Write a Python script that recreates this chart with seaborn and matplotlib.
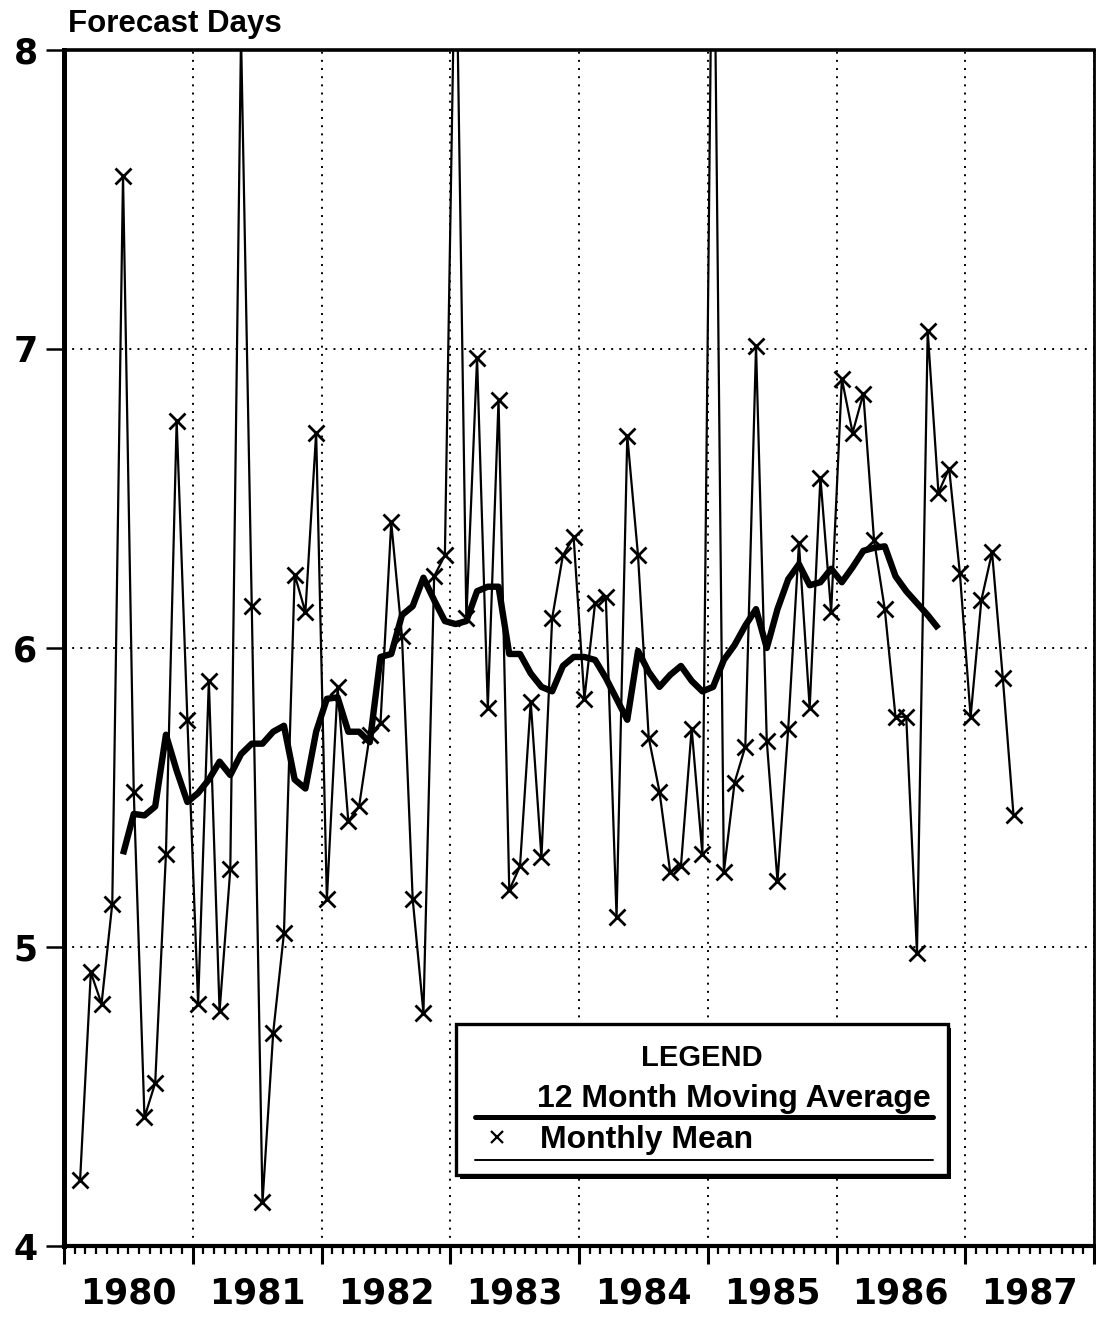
import numpy as np
import pandas as pd
import matplotlib
matplotlib.use("Agg")
import matplotlib.pyplot as plt
import matplotlib.transforms as mtransforms
from matplotlib.patches import Rectangle
from matplotlib.lines import Line2D
from matplotlib.ticker import NullFormatter
import seaborn as sns

# ---------------- data ----------------
year_labels = ["1980", "1981", "1982", "1983", "1984", "1985", "1986", "1987"]
y_ticks = [4, 5, 6, 7, 8]

monthly_start = "1980-02-01"
monthly_mean = [
    4.22, 4.915, 4.81, 5.145, 7.58, 5.52, 4.43, 4.545, 5.31, 6.76, 5.76,          # Feb-Dec 1980
    4.81, 5.89, 4.785, 5.26, 8.05, 6.14, 4.146, 4.714, 5.046, 6.245, 6.12, 6.72,  # 1981
    5.16, 5.87, 5.42, 5.47, 5.71, 5.75, 6.42, 6.04, 5.16, 4.78, 6.24, 6.31,       # 1982
    8.5, 6.1, 6.97, 5.80, 6.83, 5.19, 5.27, 5.82, 5.30, 6.10, 6.31, 6.37,         # 1983
    5.83, 6.15, 6.17, 5.10, 6.71, 6.31, 5.70, 5.52, 5.25, 5.27, 5.73, 5.31,       # 1984
    8.8, 5.25, 5.55, 5.67, 7.01, 5.69, 5.22, 5.73, 6.35, 5.80, 6.57, 6.12,        # 1985
    6.90, 6.72, 6.85, 6.36, 6.13, 5.77, 5.77, 4.98, 7.06, 6.52, 6.60, 6.25,       # 1986
    5.77, 6.16, 6.32, 5.90, 5.44,                                                 # Jan-May 1987
]

moving_start = "1980-06-01"
moving_avg = [
    5.31, 5.445, 5.44, 5.47, 5.71, 5.59, 5.485,                                   # Jun-Dec 1980
    5.515, 5.56, 5.62, 5.575, 5.645, 5.68, 5.68, 5.72, 5.74, 5.56, 5.53, 5.72,    # 1981
    5.83, 5.835, 5.72, 5.72, 5.685, 5.97, 5.98, 6.11, 6.14, 6.235, 6.16, 6.09,    # 1982
    6.08, 6.09, 6.19, 6.205, 6.205, 5.98, 5.98, 5.915, 5.87, 5.855, 5.94, 5.97,   # 1983
    5.97, 5.96, 5.90, 5.83, 5.76, 5.99, 5.92, 5.87, 5.91, 5.94, 5.89, 5.855,      # 1984
    5.87, 5.96, 6.01, 6.075, 6.13, 6.00, 6.13, 6.23, 6.28, 6.21, 6.22, 6.265,     # 1985
    6.22, 6.27, 6.325, 6.335, 6.34, 6.24, 6.19, 6.15, 6.11, 6.065,                # Jan-Oct 1986
]


def month_pos(start, n):
    d = pd.date_range(start, periods=n, freq="MS")
    return (d.year - 1980) * 12 + (d.month - 1) + 0.5


df_month = pd.DataFrame({"pos": month_pos(monthly_start, len(monthly_mean)),
                         "value": monthly_mean})
df_ma = pd.DataFrame({"pos": month_pos(moving_start, len(moving_avg)),
                      "value": moving_avg})

# ---------------- figure ----------------
sns.set_style("white")
plt.rcParams["font.family"] = ["DejaVu Sans"]
for key in ("text.color", "axes.labelcolor", "xtick.color", "ytick.color",
            "axes.edgecolor"):
    plt.rcParams[key] = "black"

W, H = 1096, 1326
fig = plt.figure(figsize=(W / 100, H / 100), dpi=100)
L, R, T, B = 64, 1094, 50, 1246
ax = fig.add_axes([L / W, 1 - B / H, (R - L) / W, (B - T) / H])

sns.lineplot(data=df_month, x="pos", y="value", ax=ax, color="black",
             lw=1.6, marker="x", markersize=11, markeredgewidth=2.0,
             markeredgecolor="black", estimator=None, sort=False, zorder=3)
sns.lineplot(data=df_ma, x="pos", y="value", ax=ax, color="black",
             lw=4.6, estimator=None, sort=False, zorder=4,
             solid_joinstyle="round", solid_capstyle="butt")

ax.set_xlim(0, 96)
ax.set_ylim(4, 8)
ax.set_xlabel("")
ax.set_ylabel("")

# ticks
ax.set_xticks(np.arange(0, 97, 12))
ax.set_xticks(np.arange(0, 97, 1), minor=True)
ax.xaxis.set_major_formatter(NullFormatter())
ax.xaxis.set_minor_formatter(NullFormatter())
ax.set_yticks(y_ticks)
ax.set_yticklabels([str(v) for v in y_ticks])
ax.tick_params(axis="x", which="major", length=13, width=2.2, direction="out",
               bottom=True, top=False, color="black")
ax.tick_params(axis="x", which="minor", length=6, width=1.6, direction="out",
               bottom=True, top=False, color="black")
ax.tick_params(axis="y", which="major", length=13, width=1.8, direction="out",
               left=True, right=False, pad=6, labelsize=25, color="black",
               labelcolor="black")
for lab in ax.get_yticklabels():
    lab.set_fontweight("bold")

# year labels centred in each year
trans = mtransforms.blended_transform_factory(ax.transData, ax.transAxes)
for k, yr in enumerate(year_labels):
    ax.text(6 + 12 * k, -0.040, yr, transform=trans, ha="center", va="center",
            fontsize=25, fontweight="bold", color="black")

# dotted grid
ax.grid(True, which="major", axis="both", color="black", lw=1.4,
        linestyle=(0, (1, 3.2)))
ax.set_axisbelow(True)

# spines
for side, lw in (("left", 3.6), ("bottom", 3.0), ("top", 2.6), ("right", 2.0)):
    ax.spines[side].set_visible(True)
    ax.spines[side].set_linewidth(lw)
    ax.spines[side].set_color("black")

# title at top-left
fig.text(68 / W, 1 - 32 / H, "Forecast Days", ha="left", va="baseline",
         fontsize=22.5, fontweight="bold", color="black",
         family=["Liberation Sans", "DejaVu Sans"])

# ---------------- custom legend box ----------------
bx0, bx1 = 0.381, 0.858
by0, by1 = 0.0594, 0.1856
shadow = Rectangle((bx0 + 0.003, by0 - 0.003), bx1 - bx0, by1 - by0,
                   transform=ax.transAxes, facecolor="black", edgecolor="black",
                   lw=0, zorder=9)
box = Rectangle((bx0, by0), bx1 - bx0, by1 - by0, transform=ax.transAxes,
                facecolor="white", edgecolor="black", lw=2.4, zorder=10)
ax.add_patch(shadow)
ax.add_patch(box)

lfont = ["Liberation Sans", "DejaVu Sans"]
ax.text(0.619, 0.157, "LEGEND", transform=ax.transAxes, ha="center",
        va="center", fontsize=21, fontweight="bold", family=lfont,
        color="black", zorder=11)
ax.text(0.459, 0.1162, "12 Month Moving Average", transform=ax.transAxes,
        ha="left", va="baseline", fontsize=23, fontweight="bold", family=lfont,
        color="black", zorder=11)
ax.add_line(Line2D([0.399, 0.8437], [0.1079, 0.1079], transform=ax.transAxes,
                   color="black", lw=3.6, zorder=11))
ax.add_line(Line2D([0.4204], [0.0911], transform=ax.transAxes, color="black",
                   marker="x", markersize=8, markeredgewidth=1.6, lw=0,
                   zorder=11))
ax.text(0.462, 0.0819, "Monthly Mean", transform=ax.transAxes, ha="left",
        va="baseline", fontsize=23, fontweight="bold", family=lfont,
        color="black", zorder=11)
ax.add_line(Line2D([0.399, 0.8437], [0.0719, 0.0719], transform=ax.transAxes,
                   color="black", lw=1.4, zorder=11))

fig.savefig("out.png", dpi=100)
